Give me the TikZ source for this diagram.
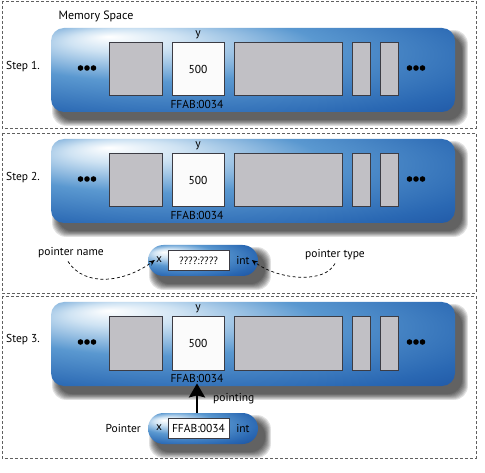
\documentclass[tikz,border=0pt]{standalone}
\usepackage{fontspec}
\setmainfont{PT Sans}
\usetikzlibrary{arrows.meta}
\definecolor{bA}{HTML}{CFE3F3}
\definecolor{bB}{HTML}{5A98D0}
\definecolor{bC}{HTML}{2A68B3}
\definecolor{bD}{HTML}{0A3589}
\definecolor{cellgray}{HTML}{C1C0C5}
\definecolor{celledge}{HTML}{3C3C44}
\definecolor{framegray}{HTML}{606060}
\pgfdeclareradialshading{barshade}{\pgfpoint{-18bp}{20bp}}{color(0bp)=(white); color(7bp)=(bA); color(20bp)=(bB); color(37bp)=(bC); color(58bp)=(bD)}
\pgfdeclareradialshading{capshade}{\pgfpoint{-18bp}{14bp}}{color(0bp)=(white); color(7bp)=(bA); color(18bp)=(bB); color(32bp)=(bC); color(50bp)=(bD)}
\tikzset{
  frame/.style={draw=framegray, line width=0.8pt, dash pattern=on 3pt off 2pt},
  barnode/.style={shading=barshade, rounded corners=13pt, inner sep=0pt, outer sep=0pt, anchor=north west, minimum width=404pt, minimum height=84pt},
  capnode/.style={shading=capshade, rounded corners=15.5pt, inner sep=0pt, outer sep=0pt, anchor=north west, minimum width=110pt, minimum height=31pt},
  cell/.style={draw=celledge, line width=1pt, fill=cellgray, inner sep=0pt, outer sep=0pt, anchor=north west, minimum height=53pt},
  whitecell/.style={cell, fill=white!97!gray},
  valbox/.style={draw=celledge, line width=1pt, fill=white, inner sep=0pt, outer sep=0pt, anchor=north west, minimum width=61pt, minimum height=20pt},
  lbl/.style={font=\fontsize{11.5}{13}\selectfont, inner sep=0pt, text=black},
  smalllbl/.style={font=\fontsize{10.5}{12}\selectfont, inner sep=0pt, text=black},
  dasharrow/.style={draw=black, line width=0.7pt, dash pattern=on 3pt off 2.5pt, -{Stealth[length=6pt,width=5pt]}},
  pointarrow/.style={draw=black, line width=2.4pt, -{Stealth[length=14pt,width=16pt,inset=2pt]}}
}
\newcommand\softshadow[4]{%
  \foreach \s in {0,...,7}{\fill[black, opacity=0.11, rounded corners=14pt] ({#1+7-\s*0.85},{#2+8-\s*0.85}) rectangle ({#3+7+\s*0.85},{#4+8+\s*0.85});}%
}
\newcommand\membar[2]{%
  \begin{scope}[shift={(0,#2)}]
    \softshadow{51}{0}{455}{84}
    \node[barnode] (bar#1) at (51,0) {};
    \node[cell, minimum width=53pt] (ca#1) at (109,15) {};
    \node[whitecell, minimum width=52pt] (cb#1) at (172,15) {};
    \node[cell, minimum width=108pt] (cc#1) at (234,15) {};
    \node[cell, minimum width=18pt] (cd#1) at (352,15) {};
    \node[cell, minimum width=18pt] (ce#1) at (380,15) {};
    \node[lbl] (val#1) at (cb#1.center) {500};
    \node[lbl] (y#1) at (198,7) {y};
    \node[lbl] (ffab#1) at (197,76.5) {FFAB:0034};
    \foreach \dx in {80.5,87,93.5,409.5,416,422.5}{\fill[black] (\dx,40) circle (2.8pt);}
  \end{scope}%
}
\begin{document}
\begin{tikzpicture}[x=1pt,y=-1pt]
\useasboundingbox (0,0) rectangle (485,473);
\fill[white] (0,0) rectangle (485,473);
% frames
\draw[frame] (2,1) rectangle (476,128);
\draw[frame] (2,133) rectangle (476,293);
\draw[frame] (2,296) rectangle (476,458);
% step 1
\node[lbl, font=\fontsize{12}{14}\selectfont] (mem) at (96,16) {Memory Space};
\membar{1}{28}
\node[lbl, anchor=west] (step1) at (6,67) {Step 1.};
% step 2
\membar{2}{139}
\node[lbl, anchor=west] (step2) at (6,178) {Step 2.};
\softshadow{148}{245}{258}{276}
\node[capnode] (cap2) at (148,245) {};
\node[valbox] (box2) at (168,251) {};
\node[smalllbl] (q2) at (box2.center) {????:????};
\node[lbl] (x2) at (159,260) {x};
\node[lbl] (int2) at (243,260) {int};
\node[lbl] (pname) at (71,253) {pointer name};
\node[lbl] (ptype) at (335,255) {pointer type};
\draw[dasharrow] ([xshift=-3pt,yshift=-3pt]pname.south) .. controls (85,288) and (125,282) .. ([xshift=-1pt]x2.west);
\draw[dasharrow] ([yshift=-3pt]ptype.south) .. controls (325,284) and (278,280) .. ([xshift=2pt]int2.east);
% step 3
\membar{3}{302}
\node[lbl, anchor=west] (step3) at (6,340) {Step 3.};
\softshadow{148}{413}{258}{444}
\node[capnode] (cap3) at (148,413) {};
\node[valbox] (box3) at (168,418) {};
\node[lbl] (addr3) at (box3.center) {FFAB:0034};
\node[lbl] (x3) at (159,428) {x};
\node[lbl] (int3) at (243,428) {int};
\node[lbl, anchor=east] (ptr) at (141,428) {Pointer};
\draw[pointarrow] (ffab3.south |- cap3.north) -- ([yshift=-0.5pt]ffab3.south);
\node[lbl, anchor=west] (pointing) at (213,399) {pointing};
\end{tikzpicture}
\end{document}
